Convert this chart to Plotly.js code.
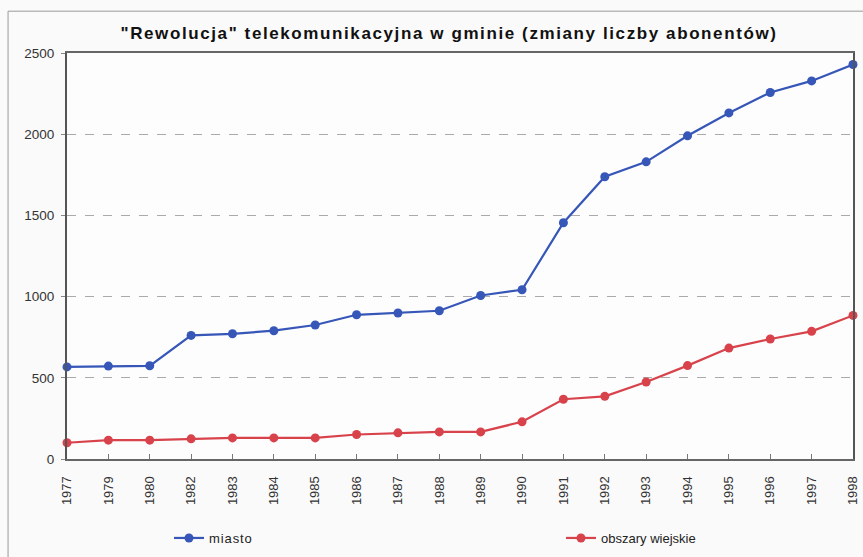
<!DOCTYPE html>
<html><head><meta charset="utf-8">
<script src="https://cdn.plot.ly/plotly-3.0.1.min.js"></script>
<style>
html,body{margin:0;padding:0;background:#fafafa}
.gtitle{letter-spacing:1.6px}
.legendtext{letter-spacing:0.9px}
</style>
</head><body>
<div id="chart" style="width:863px;height:557px"></div>
<script>
const years = ['1977','1979','1980','1982','1983','1984','1985','1986','1987','1988','1989','1990','1991','1992','1993','1994','1995','1996','1997','1998'];
const miasto = [567,572,574,761,771,790,825,888,899,913,1007,1042,1455,1738,1830,1990,2131,2257,2328,2429];
const wiejskie = [100,116,116,124,130,130,130,151,161,167,167,229,368,386,474,575,683,739,786,884];
const seriesNames = ['miasto','obszary wiejskie'];

const font = {family:'Liberation Sans, Arial, sans-serif', color:'#222'};
const traces = [
  {x:years, y:miasto, name:seriesNames[0], type:'scatter', mode:'lines+markers',
   line:{color:'#3656b8', width:2.2}, marker:{color:'#3656b8', size:9}, cliponaxis:false, legend:'legend'},
  {x:years, y:wiejskie, name:seriesNames[1], type:'scatter', mode:'lines+markers',
   line:{color:'#d8434b', width:2.2}, marker:{color:'#d8434b', size:9}, cliponaxis:false, legend:'legend2'}
];
const layout = {
  width:863, height:557,
  margin:{l:67, r:10, t:53, b:98},
  paper_bgcolor:'#fafafa', plot_bgcolor:'#fdfdfe',
  font:font,
  title:{text:'<b>"Rewolucja" telekomunikacyjna w gminie (zmiany liczby abonentów)</b>',
         x:449/863, xanchor:'center', y:1-33/557, yanchor:'middle',
         font:{family:'Liberation Sans, Arial, sans-serif', size:17, color:'#111'}},
  xaxis:{type:'category', range:[0,19], showgrid:false, zeroline:false, automargin:false,
         showline:true, linecolor:'#666', linewidth:2, mirror:true,
         ticks:'inside', ticklen:5, tickcolor:'#777', tickangle:-90, ticklabelstandoff:10,
         tickfont:{size:13, color:'#333'}},
  yaxis:{range:[0,2500], dtick:500, showgrid:true, gridcolor:'#aaa', griddash:'dash', gridwidth:1,
         zeroline:false, showline:true, linecolor:'#555', linewidth:2, mirror:true, automargin:false,
         ticks:'outside', ticklen:4, tickcolor:'#888', ticklabelstandoff:4,
         tickfont:{size:13.5, color:'#333'}},
  showlegend:true,
  legend:{orientation:'h', xref:'container', yref:'container', x:169/863, xanchor:'left', y:1-538/557, yanchor:'middle',
          bgcolor:'rgba(0,0,0,0)', font:{size:13, color:'#222'}},
  legend2:{orientation:'h', xref:'container', yref:'container', x:561/863, xanchor:'left', y:1-538/557, yanchor:'middle',
          bgcolor:'rgba(0,0,0,0)', font:{size:13, color:'#222'}},
  shapes:[
    {type:'rect', xref:'paper', yref:'paper', x0:-0.075, x1:1.05, y0:-0.3, y1:1.103,
     line:{color:'#999', width:1}, fillcolor:'rgba(0,0,0,0)', layer:'below'}
  ]
};
Plotly.newPlot('chart', traces, layout, {displayModeBar:false, staticPlot:true});
</script>
</body></html>
